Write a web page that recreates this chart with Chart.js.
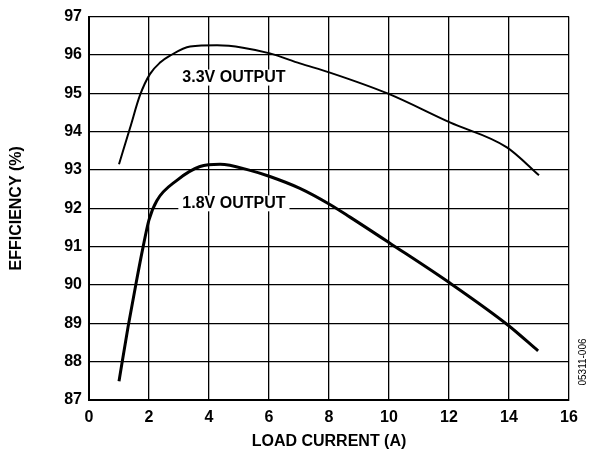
<!DOCTYPE html>
<html>
<head>
<meta charset="utf-8">
<script src="https://cdn.jsdelivr.net/npm/chart.js@4.4.1/dist/chart.umd.min.js"></script>
<style>
  html, body { margin: 0; padding: 0; background: #fff; }
  #wrap { position: relative; width: 590px; height: 451px; }
</style>
</head>
<body>
<div id="wrap"><canvas id="effChart"></canvas></div>
<script>
// Efficiency vs load current
var load33 = [1, 1.37, 1.7, 2.03, 2.37, 2.7, 3.37, 4.27, 5.13, 6.03, 7.03, 8.03, 9.97, 12.03, 13.93, 15];
var eff33 = [93.15, 94.1, 94.95, 95.5, 95.8, 95.98, 96.22, 96.25, 96.19, 96.04, 95.78, 95.54, 94.99, 94.24, 93.59, 92.86];

var load18 = [1, 1.3, 1.57, 1.8, 2, 2.26, 2.93, 3.7, 4.37, 5.37, 6.03, 7.03, 8.03, 8.7, 10.03, 12.03, 13.97, 14.97];
var eff18 = [87.49, 88.9, 90.05, 90.98, 91.7, 92.2, 92.73, 93.09, 93.15, 92.99, 92.83, 92.52, 92.1, 91.77, 91.09, 90.05, 88.95, 88.28];

var xTicks = [0, 2, 4, 6, 8, 10, 12, 14, 16];
var yTicks = [87, 88, 89, 90, 91, 92, 93, 94, 95, 96, 97];

var seriesNames = ['3.3V OUTPUT', '1.8V OUTPUT'];
var labelX = [4.83, 4.83];
var labelY = [95.41, 92.13];

function toPoints(xs, ys) {
    return xs.map(function(x, i) { return { x: x, y: ys[i] }; });
}

// Curve labels with a white box behind them (covers the grid line)
var curveLabels = {
    id: 'curveLabels',
    afterDatasetsDraw: function(chart) {
        var ctx = chart.ctx;
        var xs = chart.scales.x, ys = chart.scales.y;
        ctx.save();
        ctx.font = 'bold 16px "Liberation Sans", Arial, sans-serif';
        ctx.textAlign = 'center';
        ctx.textBaseline = 'middle';
        seriesNames.forEach(function(name, i) {
            var px = xs.getPixelForValue(labelX[i]);
            var py = ys.getPixelForValue(labelY[i]);
            var w = ctx.measureText(name).width + 8;
            ctx.fillStyle = '#fff';
            ctx.fillRect(px - w / 2, py - 8, w, 16);
            ctx.fillStyle = '#000';
            ctx.fillText(name, px, py);
        });
        // figure code on the right edge
        ctx.font = '10px "Liberation Sans", Arial, sans-serif';
        ctx.translate(583, 362);
        ctx.rotate(-Math.PI / 2);
        ctx.fillText('05311-006', 0, 0);
        ctx.restore();
    }
};

var tickFont = { family: '"Liberation Sans", Arial, sans-serif', size: 16, weight: 'bold' };

var ctx = document.getElementById('effChart').getContext('2d');
var effChart = new Chart(ctx, {
    type: 'scatter',
    data: {
        datasets: [
            {
                label: seriesNames[0],
                data: toPoints(load33, eff33),
                showLine: true,
                borderColor: '#000',
                borderWidth: 2,
                pointRadius: 0,
                cubicInterpolationMode: 'monotone'
            },
            {
                label: seriesNames[1],
                data: toPoints(load18, eff18),
                showLine: true,
                borderColor: '#000',
                borderWidth: 3,
                pointRadius: 0,
                cubicInterpolationMode: 'monotone'
            }
        ]
    },
    options: {
        responsive: true,
        maintainAspectRatio: false,
        animation: false,
        layout: { padding: { top: 16, right: 21, left: 0, bottom: 0 } },
        plugins: {
            legend: { display: false },
            tooltip: { enabled: false }
        },
        scales: {
            x: {
                type: 'linear',
                min: 0,
                max: 16,
                afterBuildTicks: function(scale) {
                    scale.ticks = xTicks.map(function(v) { return { value: v }; });
                },
                afterFit: function(scale) { scale.height = 51; },
                grid: { color: '#000', lineWidth: 1.3, drawTicks: false },
                border: { color: '#000', width: 2 },
                ticks: { color: '#000', font: tickFont, padding: 8 },
                title: {
                    display: true,
                    text: 'LOAD CURRENT (A)',
                    color: '#000',
                    font: tickFont,
                    padding: { top: 2, bottom: 0 }
                }
            },
            y: {
                type: 'linear',
                min: 87,
                max: 97,
                afterBuildTicks: function(scale) {
                    scale.ticks = yTicks.map(function(v) { return { value: v }; });
                },
                afterFit: function(scale) { scale.width = 89; },
                grid: { color: '#000', lineWidth: 1.3, drawTicks: false },
                border: { color: '#000', width: 2 },
                ticks: { color: '#000', font: tickFont, padding: 7 },
                title: {
                    display: true,
                    text: 'EFFICIENCY (%)',
                    color: '#000',
                    font: tickFont,
                    padding: { top: 7, bottom: 0 }
                }
            }
        }
    },
    plugins: [curveLabels]
});
</script>
</body>
</html>
